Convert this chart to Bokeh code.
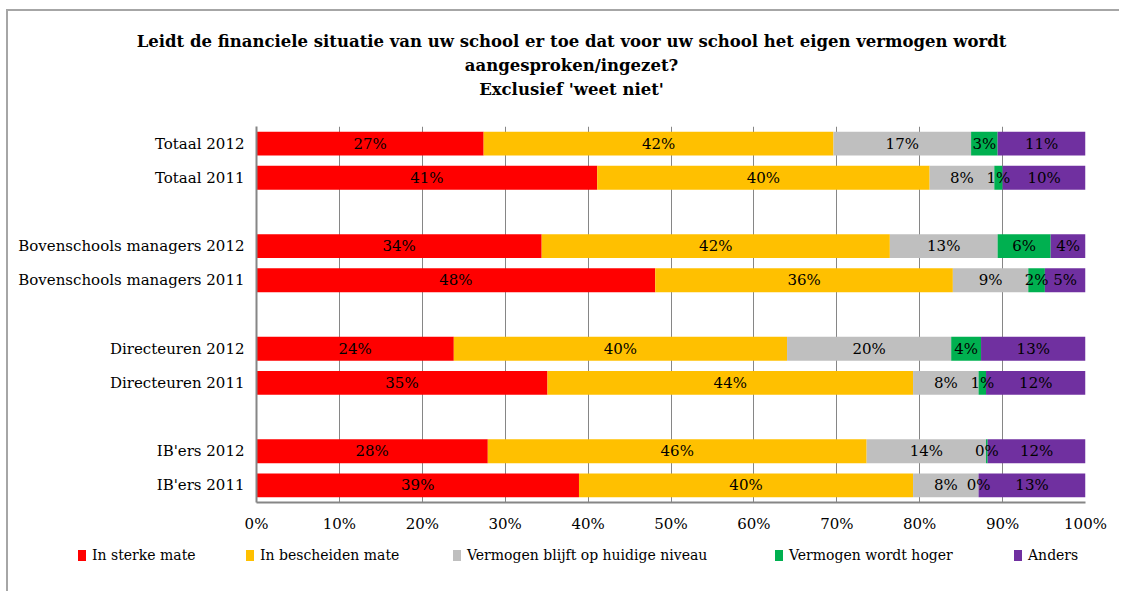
from bokeh.plotting import figure
from bokeh.layouts import column
from bokeh.models import (ColumnDataSource, FactorRange, Range1d, Label, Div,
                          PrintfTickFormatter, FixedTicker)
from bokeh.core.properties import value
from bokeh.embed import file_html
from bokeh.resources import INLINE

title_lines = [
    "Leidt de financiele situatie van uw school er toe dat voor uw school het eigen vermogen wordt",
    "aangesproken/ingezet?",
    "Exclusief 'weet niet'",
]
categories = ["Totaal 2012", "Totaal 2011",
              "Bovenschools managers 2012", "Bovenschools managers 2011",
              "Directeuren 2012", "Directeuren 2011",
              "IB'ers 2012", "IB'ers 2011"]
spacers = [" ", "  ", "   "]
series = ["In sterke mate", "In bescheiden mate", "Vermogen blijft op huidige niveau",
          "Vermogen wordt hoger", "Anders"]
colors = ["#FF0000", "#FFC000", "#BFBFBF", "#00B050", "#7030A0"]

in_sterke_mate = [27.4, 41.1, 34.4, 48.1, 23.8, 35.1, 27.9, 38.9]
in_bescheiden_mate = [42.2, 40.1, 42.0, 35.9, 40.2, 44.1, 45.7, 40.3]
vermogen_blijft = [16.6, 7.8, 13.0, 9.1, 19.8, 7.9, 14.4, 7.9]
vermogen_hoger = [3.2, 1.0, 6.4, 2.0, 3.6, 0.9, 0.2, 0.0]
anders = [10.6, 10.0, 4.2, 4.9, 12.6, 12.0, 11.8, 12.9]
x_ticks = [0, 10, 20, 30, 40, 50, 60, 70, 80, 90, 100]

FONT = "DejaVu Serif"
keys = ["s1", "s2", "s3", "s4", "s5"]
values = [in_sterke_mate, in_bescheiden_mate, vermogen_blijft, vermogen_hoger, anders]

factors_top_down = [categories[0], categories[1], spacers[0],
                    categories[2], categories[3], spacers[1],
                    categories[4], categories[5], spacers[2],
                    categories[6], categories[7]]
factors = list(reversed(factors_top_down))

data = {"cat": categories}
for k, v in zip(keys, values):
    data[k] = v
src = ColumnDataSource(data)

p = figure(width=1111, height=530, output_backend="svg", toolbar_location=None,
           y_range=FactorRange(factors=factors, range_padding=0),
           x_range=Range1d(0, 100),
           min_border_left=248, min_border_right=34, min_border_top=115, min_border_bottom=39)
p.outline_line_color = None

renderers = p.hbar_stack(keys, y="cat", height=0.7, color=colors, line_color=None, source=src)

lx, ly, lt = [], [], []
for i, cat in enumerate(categories):
    start = 0.0
    for v in values:
        val = v[i]
        lx.append(start + val / 2.0)
        ly.append(cat)
        lt.append(f"{val:.0f}%")
        start += val
p.text(x=lx, y=ly, text=lt, text_align="center", text_baseline="middle",
       text_font=value(FONT), text_font_size="15px", text_color="black")

p.xaxis.ticker = FixedTicker(ticks=x_ticks)
p.xaxis.formatter = PrintfTickFormatter(format="%d%%")
for ax in (p.xaxis[0], p.yaxis[0]):
    ax.axis_line_color = "#868686"
    ax.axis_line_width = 2
    ax.major_tick_line_color = None
    ax.minor_tick_line_color = None
    ax.major_tick_out = 0
    ax.major_tick_in = 0
    ax.major_label_text_font = FONT
    ax.major_label_text_font_size = "15px"
    ax.major_label_text_color = "black"
p.xaxis.major_label_standoff = 12
p.yaxis.major_label_standoff = 12
p.xgrid.grid_line_color = "#868686"
p.xgrid.grid_line_width = 1
p.ygrid.grid_line_color = None

title = Label(x=315, y=27, x_units="screen", y_units="screen", text="\n".join(title_lines),
              text_align="center", text_baseline="bottom", text_font=FONT,
              text_font_style="bold", text_font_size="16.5px", text_color="black",
              text_line_height=1.28)
p.add_layout(title, "above")

# legend row (HTML, below the plot)
legend_left = [70, 238, 445, 767, 1006]
items = []
for name, col, lft in zip(series, colors, legend_left):
    items.append(
        f'<span style="position:absolute;left:{lft}px;top:9px;width:8px;height:11px;'
        f'background:{col};"></span>'
        f'<span style="position:absolute;left:{lft + 14}px;top:5px;line-height:19px;'
        f'white-space:nowrap;">{name}</span>')
legend_html = (f'<div style="position:relative;width:1111px;height:50px;'
               f'font-family:\'{FONT}\';font-size:14px;color:black;">' + "".join(items) + '</div>')
legend_div = Div(text=legend_html, width=1111, height=50, margin=0)

layout = column(p, legend_div, spacing=0,
                styles={"border-left": "2px solid #A6A6A6", "border-top": "2px solid #A6A6A6",
                        "margin-left": "6px", "margin-top": "9px"})

open("out.html", "w").write(file_html(layout, INLINE))
